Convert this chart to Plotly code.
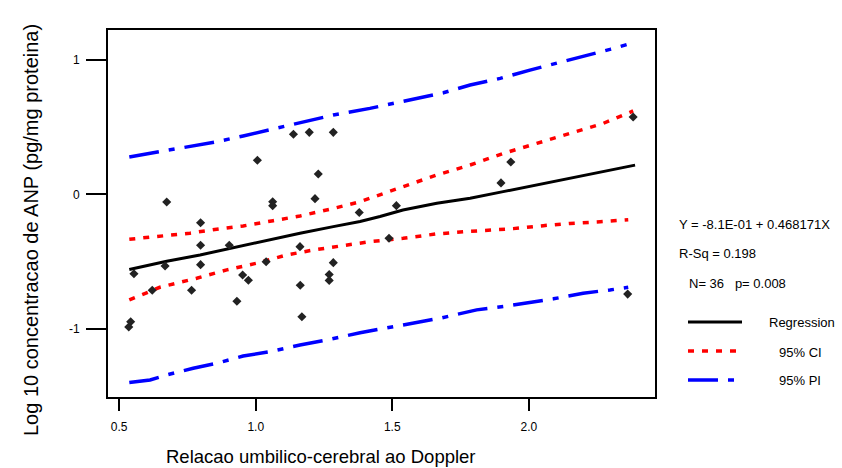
import plotly.graph_objects as go

# Scatter data
x_pts = [0.674, 0.798, 0.798, 0.903, 0.554, 0.668, 0.798, 0.621, 0.765, 0.931, 0.542, 0.535,
         1.138, 1.196, 1.284, 1.006, 1.229, 1.062, 1.062, 1.217, 1.379,
         1.162, 1.038, 1.284, 1.269, 1.269, 0.952, 0.973, 1.163, 1.169,
         1.515, 1.488, 1.934, 1.898, 2.382, 2.362]
y_pts = [-0.056, -0.210, -0.378, -0.378, -0.589, -0.532, -0.522, -0.712, -0.712, -0.794, -0.946, -0.985,
         0.448, 0.462, 0.462, 0.254, 0.152, -0.054, -0.083, -0.031, -0.134,
         -0.388, -0.500, -0.507, -0.595, -0.639, -0.599, -0.638, -0.675, -0.909,
         -0.083, -0.326, 0.242, 0.086, 0.576, -0.741]

# Regression line
reg_x = [0.537, 0.674, 0.796, 0.906, 1.040, 1.162, 1.284, 1.382, 1.455, 1.539, 1.663, 1.785,
         1.906, 2.029, 2.151, 2.273, 2.389]
reg_y = [-0.558, -0.496, -0.450, -0.401, -0.338, -0.288, -0.239, -0.201, -0.164, -0.115, -0.065,
         -0.028, 0.021, 0.071, 0.120, 0.170, 0.218]

# 95% CI upper / lower
ciu_x = [0.537, 0.649, 0.759, 0.857, 0.954, 1.064, 1.162, 1.272, 1.382, 1.418, 1.540, 1.663,
         1.785, 1.906, 2.029, 2.151, 2.273, 2.382]
ciu_y = [-0.333, -0.313, -0.288, -0.258, -0.234, -0.195, -0.160, -0.110, -0.054, -0.028, 0.058,
         0.145, 0.219, 0.305, 0.380, 0.454, 0.529, 0.621]
cil_x = [0.537, 0.649, 0.784, 0.894, 1.003, 1.113, 1.211, 1.309, 1.418, 1.540, 1.663, 1.785,
         1.943, 2.053, 2.151, 2.261, 2.364]
cil_y = [-0.784, -0.690, -0.623, -0.561, -0.511, -0.450, -0.413, -0.383, -0.351, -0.326, -0.293,
         -0.274, -0.254, -0.232, -0.215, -0.203, -0.188]

# 95% PI upper / lower
piu_x = [0.537, 0.649, 0.747, 0.857, 0.954, 1.058, 1.162, 1.284, 1.418, 1.565, 1.687, 1.785,
         1.895, 2.004, 2.102, 2.212, 2.297, 2.358]
piu_y = [0.279, 0.318, 0.355, 0.392, 0.435, 0.485, 0.534, 0.591, 0.640, 0.702, 0.756, 0.814,
         0.863, 0.925, 0.975, 1.036, 1.079, 1.114]
pil_x = [0.537, 0.613, 0.674, 0.771, 0.857, 0.954, 1.052, 1.162, 1.272, 1.382, 1.540, 1.675,
         1.809, 1.931, 2.090, 2.199, 2.297, 2.364]
pil_y = [-1.399, -1.379, -1.342, -1.292, -1.255, -1.201, -1.169, -1.119, -1.077, -1.028, -0.970,
         -0.920, -0.858, -0.826, -0.776, -0.734, -0.710, -0.690]

x_ticks = [0.5, 1.0, 1.5, 2.0]
x_tick_labels = ["0.5", "1.0", "1.5", "2.0"]
y_ticks = [-1, 0, 1]
y_tick_labels = ["-1", "0", "1"]

FONT = "Liberation Sans, Arial, sans-serif"
RED_DASH = "6px,8px"
BLUE_DASH = "30px,10px,6px,10px"

fig = go.Figure()
fig.add_trace(go.Scatter(x=piu_x, y=piu_y, mode="lines",
                         line=dict(color="#0000ff", width=3.5, dash=BLUE_DASH)))
fig.add_trace(go.Scatter(x=pil_x, y=pil_y, mode="lines",
                         line=dict(color="#0000ff", width=3.5, dash=BLUE_DASH)))
fig.add_trace(go.Scatter(x=ciu_x, y=ciu_y, mode="lines",
                         line=dict(color="#ff0000", width=3.5, dash=RED_DASH)))
fig.add_trace(go.Scatter(x=cil_x, y=cil_y, mode="lines",
                         line=dict(color="#ff0000", width=3.5, dash=RED_DASH)))
fig.add_trace(go.Scatter(x=reg_x, y=reg_y, mode="lines",
                         line=dict(color="#000000", width=3)))
fig.add_trace(go.Scatter(x=x_pts, y=y_pts, mode="markers",
                         marker=dict(symbol="diamond", size=7, color="#222222")))

L, R, T, B = 108, 187, 30, 71
W, H = 842, 468
pw, ph = W - L - R, H - T - B

def px(xp):
    return (xp - L) / pw

def py(yp):
    return (H - B - yp) / ph

annotations = [
    dict(text="Relacao umbilico-cerebral ao Doppler", x=px(321), y=py(456), xref="paper", yref="paper",
         showarrow=False, font=dict(size=18.5, family=FONT, color="black"), xanchor="center", yanchor="middle"),
    dict(text="Log 10 concentracao de ANP (pg/mg proteina)", x=px(31), y=py(230), xref="paper", yref="paper",
         showarrow=False, textangle=-90, font=dict(size=20, family=FONT, color="black"),
         xanchor="center", yanchor="middle"),
    dict(text="Y = -8.1E-01 + 0.468171X", x=px(677), y=py(224), xref="paper", yref="paper",
         showarrow=False, font=dict(size=13, family=FONT, color="black"), xanchor="left", yanchor="middle"),
    dict(text="R-Sq = 0.198", x=px(677), y=py(253), xref="paper", yref="paper",
         showarrow=False, font=dict(size=13, family=FONT, color="black"), xanchor="left", yanchor="middle"),
    dict(text="N= 36\u00a0\u00a0\u00a0p= 0.008", x=px(687), y=py(283), xref="paper", yref="paper",
         showarrow=False, font=dict(size=13, family=FONT, color="black"), xanchor="left", yanchor="middle"),
    dict(text="Regression", x=px(802), y=py(322), xref="paper", yref="paper",
         showarrow=False, font=dict(size=13, family=FONT, color="black"), xanchor="center", yanchor="middle"),
    dict(text="95% CI", x=px(800), y=py(352), xref="paper", yref="paper",
         showarrow=False, font=dict(size=13, family=FONT, color="black"), xanchor="center", yanchor="middle"),
    dict(text="95% PI", x=px(800), y=py(380), xref="paper", yref="paper",
         showarrow=False, font=dict(size=13, family=FONT, color="black"), xanchor="center", yanchor="middle"),
]

shapes = [
    dict(type="line", xref="paper", yref="paper", x0=px(688), x1=px(742), y0=py(322), y1=py(322),
         line=dict(color="black", width=3)),
    dict(type="line", xref="paper", yref="paper", x0=px(688), x1=px(737), y0=py(351), y1=py(351),
         line=dict(color="#ff0000", width=3.5, dash=RED_DASH)),
    dict(type="line", xref="paper", yref="paper", x0=px(688), x1=px(737), y0=py(380), y1=py(380),
         line=dict(color="#0000ff", width=3.5, dash=BLUE_DASH)),
]

fig.update_layout(
    width=W, height=H,
    margin=dict(l=L, r=R, t=T, b=B),
    paper_bgcolor="white", plot_bgcolor="white",
    showlegend=False,
    font=dict(family=FONT, size=12, color="black"),
    annotations=annotations,
    shapes=shapes,
    xaxis=dict(range=[0.459, 2.462], tickvals=x_ticks, ticktext=x_tick_labels,
               showgrid=False, zeroline=False, showline=True, mirror=True, linecolor="black", linewidth=2,
               ticks="outside", ticklen=12, tickwidth=1.5, tickcolor="black",
               tickfont=dict(size=12, family=FONT, color="black"), ticklabelstandoff=6),
    yaxis=dict(range=[-1.506, 1.223], tickvals=y_ticks, ticktext=y_tick_labels,
               showgrid=False, zeroline=False, showline=True, mirror=True, linecolor="black", linewidth=2,
               ticks="outside", ticklen=20, tickwidth=1.5, tickcolor="black",
               tickfont=dict(size=12, family=FONT, color="black"), ticklabelstandoff=4),
)

fig.write_html("out.html")
